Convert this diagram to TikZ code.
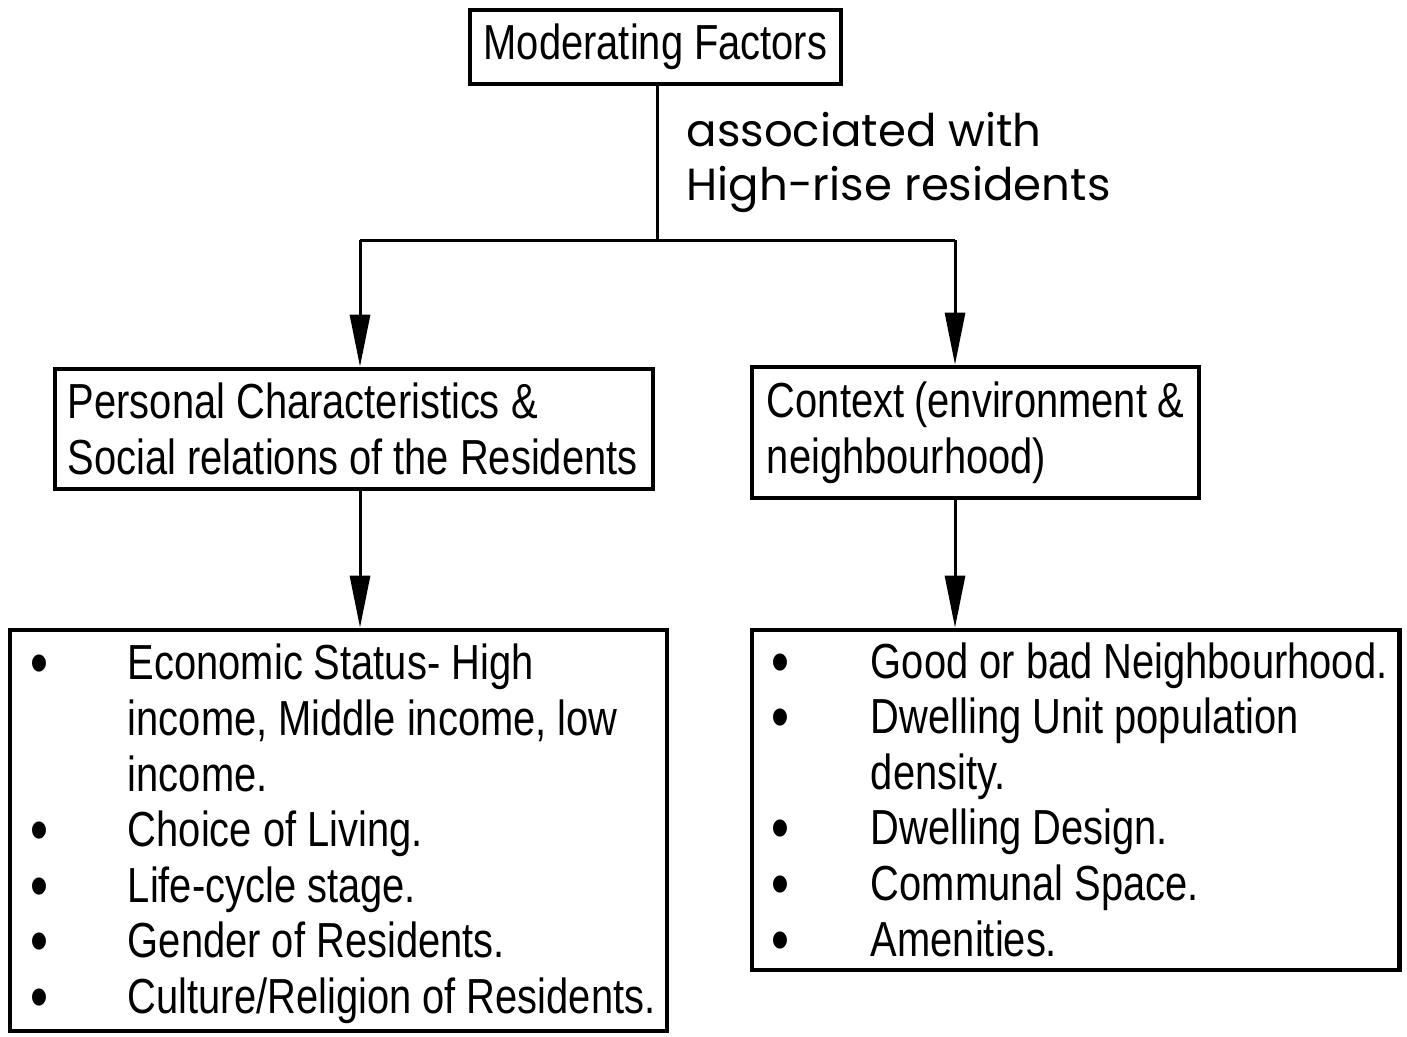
\documentclass[tikz,border=0pt]{standalone}
\usepackage{fontspec}
\setmainfont[FakeStretch=0.81]{Liberation Sans}
\newfontfamily\notefont{Poppins}
\usepackage{tikz}
\usetikzlibrary{arrows.meta}
\usepackage{xcolor}

\newcommand{\itembullet}{\raisebox{-0.05cm}{\fontsize{18}{15.8}\selectfont\textbullet}}

\begin{document}
\begin{tikzpicture}[x=0.01cm,y=-0.01cm]
			%\draw[help lines] (0,0) grid[step=100] (1407,1036);
			
			\tikzset{
			box/.style 	= {draw=black, line width=1.3pt, inner ysep=0pt,
				font=\fontsize{14}{15.8}\selectfont},
			line/.style 	= {draw=black, line width=0.85pt},
			arrow/.style 	= {line, -{Triangle[length=0.52cm,width=0.2cm]}}}
			
			\useasboundingbox (0,0) rectangle (1407,1036);
			
			\node[box, minimum width=3.71cm, minimum height=0.74cm, inner xsep=0pt] (factors) at (655.5,47) {Moderating Factors};
			
			\node[box, minimum height=1.20cm, text width=5.72cm, inner xsep=0.13cm, align=flush left] (personal) at (354,429)
				{Personal Characteristics \&\\Social relations of the Residents};
			\node[box, minimum height=1.31cm, text width=4.17cm, inner xsep=0.15cm, align=flush left] (context) at (975.5,432.5)
				{Context (environment \&\\neighbourhood)};
			
			\node[box, minimum height=4.01cm, text width=6.15cm, inner xsep=0.21cm, align=flush left] (personlist) at (338.5,830.5) {%
				\raisebox{-0.05cm}[\height][\depth]{\begin{tabular}{@{}p{0.97cm}@{}l@{}}
				\itembullet & Economic Status- High\\
				 & income, Middle income, low\\
				 & income.\\
				\itembullet & Choice of Living.\\
				\itembullet & Life-cycle stage.\\
				\itembullet & Gender of Residents.\\
				\itembullet & Culture/Religion of Residents.
				\end{tabular}}};
			\node[box, minimum height=3.40cm, text width=6.07cm, inner xsep=0.20cm, align=flush left] (contextlist) at (1075.5,800) {%
				\raisebox{-0.06cm}[\height][\depth]{\begin{tabular}{@{}p{0.99cm}@{}l@{}}
				\itembullet & Good or bad Neighbourhood.\\
				\itembullet & Dwelling Unit population\\
				 & density.\\
				\itembullet & Dwelling Design.\\
				\itembullet & Communal Space.\\
				\itembullet & Amenities.
				\end{tabular}}};
			
			\node[anchor=west, inner sep=0pt, align=flush left, font=\notefont\fontsize{12.8}{15.6}\selectfont] (assoc) at (686,162.5)
				{associated with\\High-rise residents};
			
			\coordinate (split) at (657,240);
			\coordinate (splitL) at (360,240);
			\coordinate (splitR) at (955,240);
			
			\draw[line] (split |- factors.south) -- (split);
			\draw[line] (splitL) -- (splitR);
			\draw[arrow] (splitL) -- (splitL |- personal.north);
			\draw[arrow] (splitR) -- (splitR |- context.north);
			\draw[arrow] (splitL |- personal.south) -- (splitL |- personlist.north);
			\draw[arrow] (splitR |- context.south) -- (splitR |- contextlist.north);
			
\end{tikzpicture}
\end{document}
